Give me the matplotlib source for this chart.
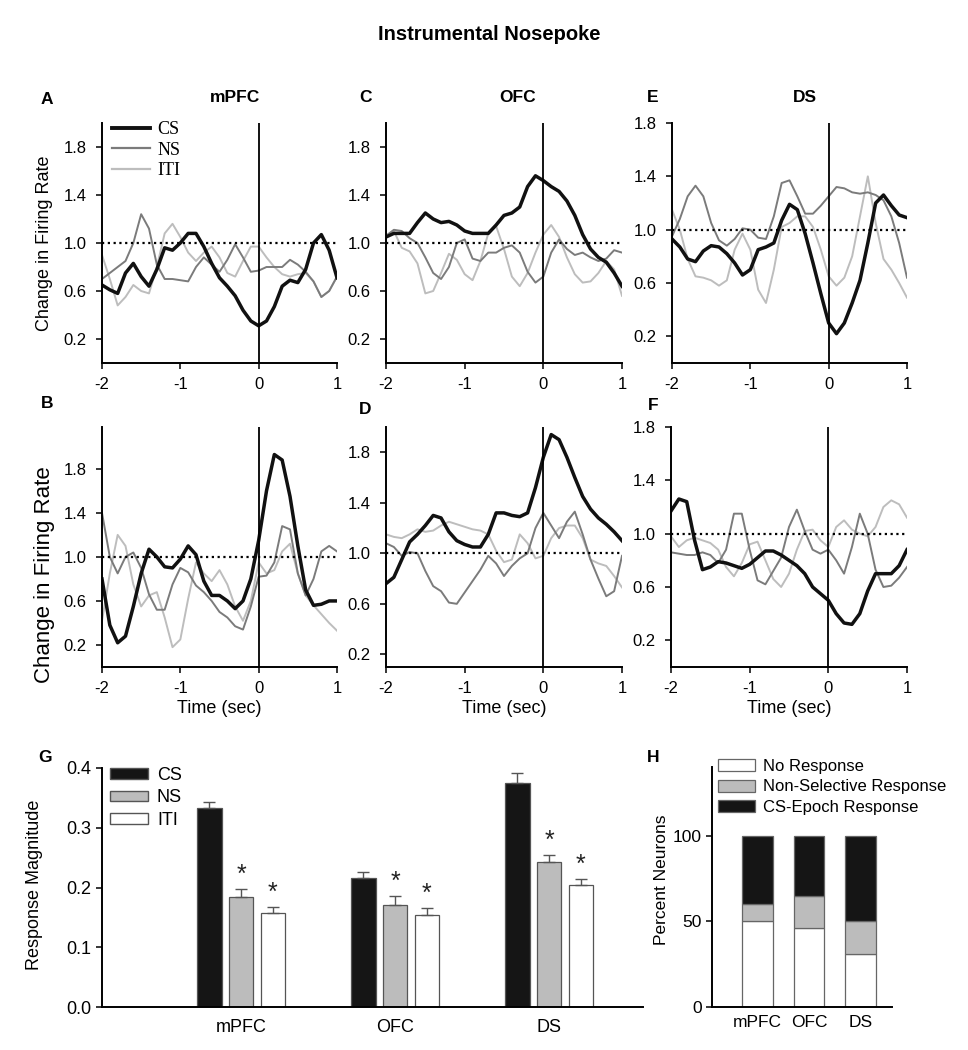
import numpy as np
import matplotlib
matplotlib.use('Agg')
import matplotlib.pyplot as plt
from matplotlib.lines import Line2D
from matplotlib.patches import Patch
from matplotlib.ticker import FormatStrFormatter

plt.rcParams['font.family'] = ['Liberation Sans', 'DejaVu Sans']

# DATA
#===========================================================================
# time axis of the peri-event traces (sec)
t = np.round(np.arange(-2.0, 1.0001, 0.1), 1)

# A - mPFC, set 1
a_cs = [0.65, 0.61, 0.58, 0.75, 0.83, 0.72, 0.64, 0.78, 0.96, 0.94, 1.00, 1.08, 1.08, 0.97, 0.83, 0.71,
        0.64, 0.56, 0.44, 0.35, 0.31, 0.35, 0.47, 0.64, 0.69, 0.67, 0.78, 1.00, 1.07, 0.94, 0.71]
a_ns = [0.70, 0.75, 0.80, 0.85, 1.00, 1.24, 1.12, 0.82, 0.70, 0.70, 0.69, 0.68, 0.80, 0.88, 0.82, 0.76,
        0.86, 0.99, 0.88, 0.76, 0.77, 0.80, 0.80, 0.80, 0.86, 0.82, 0.76, 0.68, 0.55, 0.60, 0.72]
a_iti = [0.90, 0.70, 0.48, 0.55, 0.65, 0.60, 0.58, 0.80, 1.08, 1.16, 1.05, 0.92, 0.85, 0.92, 0.97, 0.88,
         0.75, 0.72, 0.85, 0.97, 0.97, 0.88, 0.80, 0.74, 0.72, 0.74, 0.75, 0.68, 0.55, 0.60, 0.72]

# C - OFC, set 1
c_cs = [1.05, 1.08, 1.08, 1.08, 1.17, 1.25, 1.20, 1.17, 1.18, 1.15, 1.10, 1.08, 1.08, 1.08, 1.15, 1.23,
        1.25, 1.30, 1.47, 1.56, 1.52, 1.47, 1.43, 1.35, 1.23, 1.07, 0.95, 0.88, 0.84, 0.75, 0.64]
c_ns = [1.06, 1.11, 1.10, 1.04, 1.00, 0.88, 0.75, 0.70, 0.80, 1.00, 1.03, 0.87, 0.85, 0.92, 0.92, 0.96,
        0.98, 0.92, 0.76, 0.67, 0.72, 0.92, 1.03, 0.95, 0.90, 0.92, 0.88, 0.85, 0.87, 0.94, 0.92]
c_iti = [1.06, 1.10, 0.96, 0.93, 0.83, 0.58, 0.60, 0.75, 0.91, 0.86, 0.74, 0.69, 0.85, 1.08, 1.14, 0.95,
         0.72, 0.64, 0.75, 0.92, 1.07, 1.15, 1.05, 0.88, 0.74, 0.67, 0.68, 0.75, 0.85, 0.78, 0.56]

# E - DS, set 1
e_cs = [0.93, 0.87, 0.78, 0.76, 0.84, 0.88, 0.87, 0.82, 0.75, 0.66, 0.70, 0.85, 0.87, 0.90, 1.07, 1.19,
        1.15, 0.97, 0.75, 0.52, 0.30, 0.22, 0.30, 0.45, 0.62, 0.90, 1.20, 1.26, 1.18, 1.11, 1.09]
e_ns = [0.95, 1.08, 1.25, 1.33, 1.25, 1.05, 0.92, 0.88, 0.93, 1.01, 1.00, 0.94, 0.93, 1.10, 1.35, 1.37,
        1.25, 1.12, 1.12, 1.18, 1.25, 1.32, 1.31, 1.28, 1.27, 1.28, 1.26, 1.22, 1.10, 0.90, 0.64]
e_iti = [1.15, 1.00, 0.78, 0.65, 0.64, 0.62, 0.58, 0.62, 0.85, 0.97, 0.85, 0.55, 0.45, 0.70, 1.02, 1.05,
         1.10, 1.10, 1.02, 0.85, 0.65, 0.58, 0.64, 0.80, 1.10, 1.40, 1.05, 0.78, 0.70, 0.60, 0.49]

# B - mPFC, set 2
b_cs = [0.80, 0.38, 0.22, 0.28, 0.55, 0.85, 1.07, 1.00, 0.91, 0.90, 0.98, 1.10, 1.02, 0.78, 0.65, 0.65,
        0.60, 0.53, 0.60, 0.80, 1.15, 1.60, 1.93, 1.88, 1.55, 1.10, 0.70, 0.56, 0.57, 0.60, 0.60]
b_ns = [1.40, 1.00, 0.85, 1.00, 1.04, 0.90, 0.66, 0.52, 0.52, 0.75, 0.90, 0.86, 0.74, 0.68, 0.60, 0.50,
        0.45, 0.37, 0.34, 0.55, 0.82, 0.83, 0.95, 1.28, 1.25, 0.85, 0.65, 0.80, 1.05, 1.10, 1.05]
b_iti = [0.42, 0.85, 1.20, 1.10, 0.75, 0.55, 0.65, 0.68, 0.45, 0.18, 0.25, 0.62, 0.95, 0.85, 0.78, 0.88,
         0.75, 0.55, 0.42, 0.60, 0.95, 0.85, 0.88, 1.05, 1.12, 0.85, 0.65, 0.56, 0.48, 0.40, 0.33]

# D - OFC, set 2
d_cs = [0.76, 0.81, 0.95, 1.09, 1.15, 1.22, 1.30, 1.28, 1.17, 1.10, 1.07, 1.05, 1.05, 1.15, 1.32, 1.32,
        1.30, 1.29, 1.32, 1.52, 1.76, 1.94, 1.90, 1.76, 1.60, 1.45, 1.35, 1.28, 1.23, 1.17, 1.10]
d_ns = [1.08, 1.05, 0.98, 1.01, 1.00, 0.86, 0.74, 0.70, 0.61, 0.60, 0.69, 0.78, 0.87, 0.98, 0.92, 0.82,
        0.90, 0.96, 1.00, 1.20, 1.32, 1.22, 1.12, 1.25, 1.33, 1.15, 0.95, 0.80, 0.66, 0.70, 0.98]
d_iti = [1.15, 1.13, 1.12, 1.15, 1.19, 1.17, 1.18, 1.22, 1.25, 1.23, 1.21, 1.19, 1.18, 1.15, 1.02, 0.93,
         0.95, 1.15, 1.08, 0.96, 0.98, 1.12, 1.20, 1.22, 1.22, 1.12, 0.95, 0.92, 0.90, 0.82, 0.73]

# F - DS, set 2
f_cs = [1.17, 1.26, 1.24, 0.95, 0.73, 0.75, 0.79, 0.78, 0.76, 0.74, 0.77, 0.82, 0.87, 0.87, 0.84, 0.80,
        0.76, 0.70, 0.60, 0.55, 0.50, 0.40, 0.33, 0.32, 0.40, 0.57, 0.70, 0.70, 0.70, 0.76, 0.88]
f_ns = [0.86, 0.85, 0.84, 0.84, 0.86, 0.84, 0.78, 0.88, 1.15, 1.15, 0.88, 0.65, 0.62, 0.72, 0.82, 1.05,
        1.18, 1.02, 0.88, 0.85, 0.88, 0.80, 0.70, 0.90, 1.15, 1.00, 0.73, 0.60, 0.61, 0.67, 0.75]
f_iti = [0.98, 0.90, 0.95, 0.97, 0.95, 0.93, 0.88, 0.75, 0.68, 0.78, 0.92, 0.94, 0.80, 0.66, 0.60, 0.70,
         0.88, 1.02, 1.03, 0.95, 0.90, 1.05, 1.10, 1.03, 1.00, 0.98, 1.05, 1.20, 1.25, 1.22, 1.12]

# G - response magnitude (mean, upper SEM)
regions = ['mPFC', 'OFC', 'DS']
g_cs = [0.333, 0.216, 0.375]
g_cs_err = [0.010, 0.010, 0.016]
g_ns = [0.184, 0.170, 0.242]
g_ns_err = [0.014, 0.016, 0.013]
g_iti = [0.158, 0.154, 0.204]
g_iti_err = [0.010, 0.012, 0.011]

# H - percent of neurons
h_none = [50, 46, 31]
h_nonsel = [10, 19, 19]
h_epoch = [40, 35, 50]

# COLOURS
CS_C, NS_C, ITI_C = '#111111', '#7b7b7b', '#bdbdbd'
BAR_DARK, BAR_GRAY = '#151515', '#bcbcbc'

W, H = 968, 1050

def rect(x0, y0, x1, y1):
    # pixel box -> figure fraction
    return [x0 / W, 1 - y1 / H, (x1 - x0) / W, (y1 - y0) / H]

def fx(px):
    return px / W

def fy(py):
    return 1 - py / H

fig = plt.figure(figsize=(W / 100, H / 100), dpi=100)

def style_axes(ax):
    for s in ['top', 'right']:
        ax.spines[s].set_visible(False)
    for s in ['left', 'bottom']:
        ax.spines[s].set_linewidth(1.4)
    ax.tick_params(direction='out', length=4, width=1.1, labelsize=12)

def trace_panel(box, cs, ns, iti, ylim):
    ax = fig.add_axes(rect(*box))
    ax.plot(t, iti, color=ITI_C, lw=1.4)
    ax.plot(t, ns, color=NS_C, lw=1.4)
    ax.plot(t, cs, color=CS_C, lw=2.5)
    ax.axhline(1.0, color='black', lw=1.6, ls=(0, (1, 1.6)))
    ax.axvline(0, color='black', lw=1.3)
    ax.set_xlim(-2, 1)
    ax.set_ylim(*ylim)
    ax.set_xticks([-2, -1, 0, 1])
    ax.set_xticklabels(['-2', '-1', '0', '1'])
    ax.set_yticks([0.2, 0.6, 1.0, 1.4, 1.8])
    ax.yaxis.set_major_formatter(FormatStrFormatter('%.1f'))
    style_axes(ax)
    ax.tick_params(axis='x', pad=6)
    ax.tick_params(axis='y', pad=7)
    return ax

# TRACE PANELS
#===========================================================================
ax_a = trace_panel((102, 123, 337, 363), a_cs, a_ns, a_iti, (0, 2.0))
ax_c = trace_panel((386, 123, 622, 363), c_cs, c_ns, c_iti, (0, 2.0))
ax_e = trace_panel((672, 123, 907, 363), e_cs, e_ns, e_iti, (0, 1.8))
ax_b = trace_panel((102, 427, 337, 667), b_cs, b_ns, b_iti, (0, 2.18))
ax_d = trace_panel((386, 427, 622, 667), d_cs, d_ns, d_iti, (0.1, 2.0))
ax_f = trace_panel((671, 427, 907, 667), f_cs, f_ns, f_iti, (0, 1.8))

for ax in (ax_b, ax_d, ax_f):
    ax.set_xlabel('Time (sec)', fontsize=13, labelpad=3)

fig.text(fx(45), fy(243), 'Change in Firing Rate', rotation=90, fontsize=13, ha='center', va='center')
fig.text(fx(45), fy(575), 'Change in Firing Rate', rotation=90, fontsize=16, ha='center', va='center')

handles = [Line2D([], [], color=CS_C, lw=2.8), Line2D([], [], color=NS_C, lw=1.6),
           Line2D([], [], color=ITI_C, lw=1.6)]
ax_a.legend(handles, ['CS', 'NS', 'ITI'], loc='upper left', bbox_to_anchor=(fx(112), fy(121)),
            bbox_transform=fig.transFigure, frameon=False, borderpad=0, borderaxespad=0,
            handlelength=2.1, handletextpad=0.4, labelspacing=0.2,
            prop={'family': ['Liberation Serif'], 'size': 13})

# panel letters and region titles
for letter, x, y in [('A', 47, 100), ('C', 365, 97), ('E', 653, 97),
                     ('B', 47, 403), ('D', 365, 409), ('F', 653, 405),
                     ('G', 45, 757), ('H', 653, 757)]:
    fig.text(fx(x), fy(y), letter, fontsize=12.5, fontweight='bold', ha='center', va='center')
for name, x in [('mPFC', 235), ('OFC', 518), ('DS', 805)]:
    fig.text(fx(x), fy(97), name, fontsize=12.5, fontweight='bold', ha='center', va='center')

fig.text(fx(489), fy(35), 'Instrumental Nosepoke', fontsize=14.5, fontweight='bold',
         ha='center', va='center')

# G - BAR CHART
#===========================================================================
ax_g = fig.add_axes(rect(102, 768, 643, 1007))
x = np.arange(len(regions))
bw, step = 0.156, 0.205
series = [(g_cs, g_cs_err, BAR_DARK, 'CS', False),
          (g_ns, g_ns_err, BAR_GRAY, 'NS', True),
          (g_iti, g_iti_err, 'white', 'ITI', True)]
for i, (vals, err, col, lab, star) in enumerate(series):
    xpos = x + (i - 1) * step
    ax_g.bar(xpos, vals, width=bw, color=col, edgecolor='#555555', linewidth=0.9, label=lab,
             yerr=[np.zeros(len(err)), err],
             error_kw=dict(ecolor='#555555', elinewidth=1.0, capsize=4.5, capthick=1.0))
    if star:
        for xp, v, e in zip(xpos, vals, err):
            ax_g.text(xp, v + e + 0.003, '*', ha='center', va='bottom', fontsize=18, color='#222222')
ax_g.set_xlim(-0.903, 2.61)
ax_g.set_ylim(0, 0.4)
ax_g.set_yticks([0.0, 0.1, 0.2, 0.3, 0.4])
ax_g.yaxis.set_major_formatter(FormatStrFormatter('%.1f'))
ax_g.set_xticks(x)
ax_g.set_xticklabels(regions)
style_axes(ax_g)
ax_g.tick_params(axis='both', labelsize=13)
ax_g.tick_params(axis='x', length=0, pad=9)
fig.text(fx(35), fy(885), 'Response Magnitude', rotation=90, fontsize=13, ha='center', va='center')
g_handles = [Patch(facecolor=BAR_DARK, edgecolor='#555555'),
             Patch(facecolor=BAR_GRAY, edgecolor='#555555'),
             Patch(facecolor='white', edgecolor='#555555')]
ax_g.legend(g_handles, ['CS', 'NS', 'ITI'], loc='upper left', bbox_to_anchor=(fx(110), fy(767)),
            bbox_transform=fig.transFigure, frameon=False, borderpad=0, borderaxespad=0,
            handlelength=2.1, handleheight=0.55, handletextpad=0.5, labelspacing=0.3, fontsize=13)

# H - STACKED BARS
#===========================================================================
ax_h = fig.add_axes(rect(712, 767, 892, 1007))
xh = np.arange(len(regions))
ax_h.bar(xh, h_none, width=0.6, color='white', edgecolor='#666666', linewidth=0.9,
         label='No Response')
ax_h.bar(xh, h_nonsel, width=0.6, bottom=h_none, color=BAR_GRAY, edgecolor='#666666',
         linewidth=0.9, label='Non-Selective Response')
ax_h.bar(xh, h_epoch, width=0.6, bottom=np.add(h_none, h_nonsel), color=BAR_DARK,
         edgecolor='#666666', linewidth=0.9, label='CS-Epoch Response')
ax_h.set_xlim(-0.89, 2.62)
ax_h.set_ylim(0, 140)
ax_h.set_yticks([0, 50, 100])
ax_h.set_xticks(xh)
ax_h.set_xticklabels(regions)
style_axes(ax_h)
ax_h.tick_params(axis='both', labelsize=12.5)
ax_h.tick_params(axis='x', length=0, pad=6)
fig.text(fx(662), fy(880), 'Percent Neurons', rotation=90, fontsize=12.5, ha='center', va='center')
ax_h.legend(loc='upper left', bbox_to_anchor=(fx(718), fy(759)), bbox_transform=fig.transFigure,
            frameon=False, borderpad=0, borderaxespad=0, handlelength=2.2, handleheight=0.7,
            handletextpad=0.5, labelspacing=0.33, fontsize=12)

fig.savefig('out.png', dpi=100)
